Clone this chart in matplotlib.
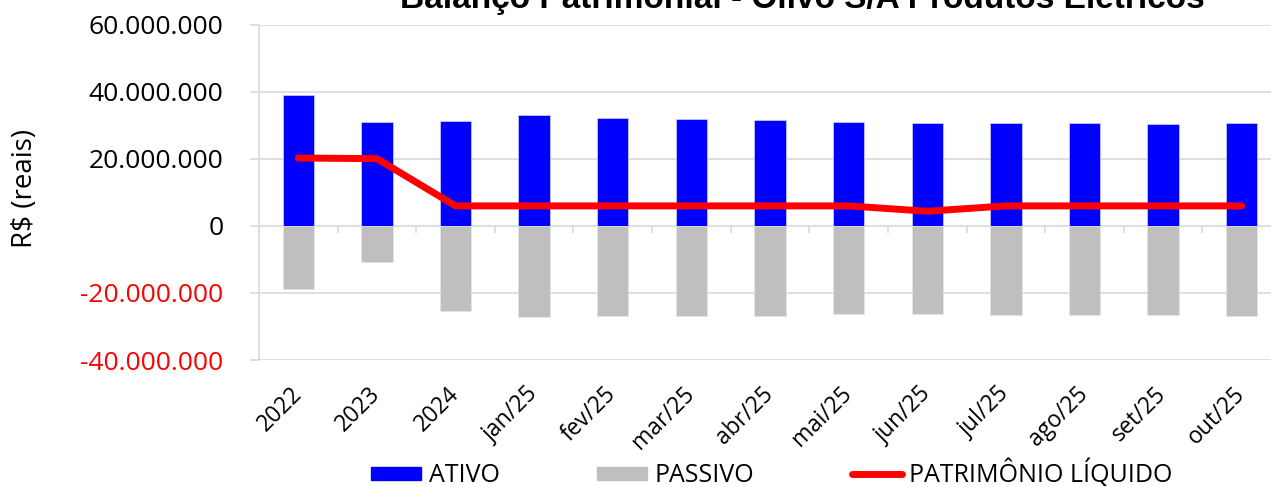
import matplotlib
matplotlib.use("Agg")
import matplotlib.pyplot as plt
from matplotlib.lines import Line2D
from matplotlib.patches import Patch
import numpy as np

plt.rcParams['font.family'] = ['Open Sans', 'DejaVu Sans']

# data (R$)
meses = ['2022', '2023', '2024', 'jan/25', 'fev/25', 'mar/25', 'abr/25',
         'mai/25', 'jun/25', 'jul/25', 'ago/25', 'set/25', 'out/25']
ativo = [39.2e6, 31.0e6, 31.4e6, 33.1e6, 32.2e6, 31.9e6, 31.7e6,
         31.0e6, 30.8e6, 30.7e6, 30.6e6, 30.5e6, 30.7e6]
passivo = [-18.8e6, -10.7e6, -25.3e6, -27.2e6, -26.8e6, -26.8e6, -26.8e6,
           -26.4e6, -26.4e6, -26.5e6, -26.6e6, -26.6e6, -26.9e6]
patrimonio = [20.3e6, 20.1e6, 6.0e6, 6.0e6, 6.0e6, 6.0e6, 6.0e6,
              6.0e6, 4.4e6, 6.0e6, 6.0e6, 6.0e6, 6.0e6]
yticks = [-40e6, -20e6, 0, 20e6, 40e6, 60e6]

grid_c = '#d9d9d9'

fig = plt.figure(figsize=(12.71, 4.87), dpi=100)
ax = fig.add_axes([259/1271, 1-360/487, 1022/1271, 335/487])

x = np.arange(len(meses))
ax.bar(x, ativo, width=0.4, color='#0000ff', edgecolor='#d0d0ff', lw=0.5, zorder=2)
ax.bar(x, passivo, width=0.4, color='#bfbfbf', edgecolor='#e6e6e6', lw=0.5, zorder=2)
ax.plot(x, patrimonio, color='#ff0000', lw=5, solid_capstyle='round',
        solid_joinstyle='round', zorder=3)

ax.set_xlim(-0.5, len(meses) - 0.5)
ax.set_ylim(-40e6, 60e6)
ax.set_yticks(yticks)
ax.set_yticklabels([f"{v:,.0f}".replace(',', '.') for v in yticks])
for lab, v in zip(ax.get_yticklabels(), yticks):
    lab.set_color('#ff0000' if v < 0 else 'black')
ax.yaxis.grid(True, color=grid_c, lw=1.2)
ax.set_axisbelow(True)
ax.tick_params(axis='y', labelsize=19, length=6.5, width=1.2, color=grid_c, pad=19)

ax.set_xticks(x)
ax.set_xticklabels(meses, rotation=45, ha='right', va='center', rotation_mode='anchor')
ax.tick_params(axis='x', labelsize=16.5, length=0, pad=22)

for s in ['top', 'right', 'bottom']:
    ax.spines[s].set_visible(False)
ax.spines['left'].set_color(grid_c)
ax.spines['left'].set_linewidth(1.2)

# category separators on the zero line
sec = ax.secondary_xaxis(0.4, functions=(lambda v: v, lambda v: v))
sec.set_xticks(np.arange(-0.5, len(meses), 1.0))
sec.set_xticklabels([])
sec.tick_params(length=5, width=1.2, color=grid_c, direction='out')
sec.spines['bottom'].set_visible(False)

fig.text(25/1271, 1-188/487, 'R$ (reais)', rotation=90, ha='center', va='center', fontsize=20)
fig.text(802/1271, 1-8/487, 'Balanço Patrimonial - Olivo S/A Produtos Elétricos',
         ha='center', va='baseline', fontsize=24, fontweight='bold',
         family=['Liberation Sans', 'DejaVu Sans'])

handles = [Patch(color='#0000ff'), Patch(color='#bfbfbf'),
           Line2D([], [], color='#ff0000', lw=5, solid_capstyle='round')]
fig.legend(handles, ['ATIVO', 'PASSIVO', 'PATRIMÔNIO LÍQUIDO'], ncol=3,
           loc='center', bbox_to_anchor=(772/1271, 1-474/487), frameon=False,
           fontsize=18, handlelength=2.0, handleheight=0.45, handletextpad=0.3,
           columnspacing=3.9, borderpad=0)

fig.savefig('out.png', dpi=100)
